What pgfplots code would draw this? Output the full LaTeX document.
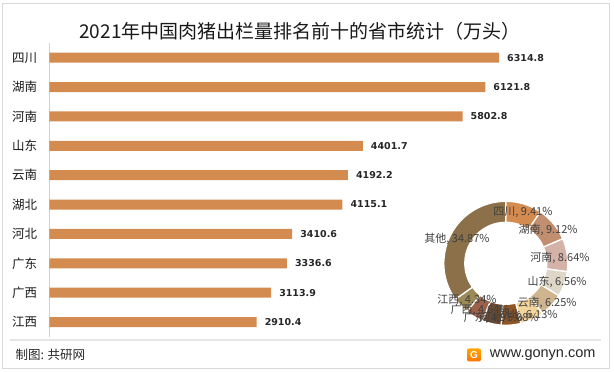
\documentclass[border=0pt]{standalone}
\usepackage{pgfplots}
\pgfplotsset{compat=1.18}
\usepackage{pgfplotstable}
\usepackage{fontspec}
\setmainfont{Noto Sans CJK SC}
\newfontfamily\valfont{DejaVu Sans}
\newfontfamily\webfont{Liberation Sans}
\definecolor{barc}{HTML}{D38B4F}
\definecolor{c1}{HTML}{D38B4F}
\definecolor{c2}{HTML}{C18F6F}
\definecolor{c3}{HTML}{D5B2A8}
\definecolor{c4}{HTML}{DED6C6}
\definecolor{c5}{HTML}{CFB58F}
\definecolor{c6}{HTML}{F3D59B}
\definecolor{c7}{HTML}{8E5526}
\definecolor{c8}{HTML}{6B4A2F}
\definecolor{c9}{HTML}{9C6249}
\definecolor{c10}{HTML}{9B8A56}
\definecolor{c11}{HTML}{8B7049}
\definecolor{lbl}{HTML}{404040}

\pgfplotstableread{
idx name value
0 江西 2910.4
1 广西 3113.9
2 广东 3336.6
3 河北 3410.6
4 湖北 4115.1
5 云南 4192.2
6 山东 4401.7
7 河南 5802.8
8 湖南 6121.8
9 四川 6314.8
}\bars

\pgfplotstableread{
pct col
9.41 c1
9.12 c2
8.64 c3
6.56 c4
6.25 c5
6.13 c6
5.08 c7
4.97 c8
4.64 c9
4.34 c10
34.87 c11
}\donut

\begin{document}
\begin{tikzpicture}
\useasboundingbox (0bp,0bp) rectangle (614bp,372bp);
\draw[draw=black!15, line width=0.8bp] (2.5bp,3.5bp) rectangle (609.5bp,368.5bp);

\node[font=\fontsize{19bp}{22bp}\selectfont, text=black!90] at (300bp,340.5bp) {2021年中国肉猪出栏量排名前十的省市统计（万头）};

\begin{axis}[
  at={(49.3bp,35.3bp)}, anchor=south west,
  scale only axis, width=498.5bp, height=293.7bp,
  xmin=0, xmax=7000, ymin=-0.5, ymax=9.5,
  hide x axis,
  axis y line*=left,
  y axis line style={draw=black!18, line width=1bp, -},
  ytick={0,...,9},
  yticklabels from table={\bars}{name},
  major tick length=0pt,
  yticklabel style={font=\fontsize{12.5bp}{14bp}\selectfont, text=black!90, inner sep=0pt, xshift=-12bp},
  /pgf/number format/assume math mode=true,
  clip=false,
]
\addplot[xbar, bar width=10bp, fill=barc, draw=none,
  point meta=x,
  nodes near coords={\pgfmathprintnumber[fixed,fixed zerofill,precision=1,1000 sep={},assume math mode=true]{\pgfplotspointmeta}},
  nodes near coords style={font=\valfont\bfseries\fontsize{9.5bp}{11bp}\selectfont, text=black!85, anchor=west, inner sep=0pt, xshift=8bp}
] table[x=value, y=idx] {\bars};
\end{axis}

\begin{axis}[
  at={(443.8bp,46.7bp)}, anchor=south west,
  scale only axis, width=124bp, height=124bp,
  xmin=-1, xmax=1, ymin=-1, ymax=1,
  hide axis, clip=false,
]
\addplot[draw=none] coordinates {(0,0)};
\pgfplotsextra{
  \xdef\cumpct{0}
  \foreach \i in {0,...,10}{
    \pgfplotstablegetelem{\i}{pct}\of\donut \let\slpct\pgfplotsretval
    \pgfplotstablegetelem{\i}{col}\of\donut \let\slcol\pgfplotsretval
    \pgfmathsetmacro\aA{90-3.6*\cumpct}
    \pgfmathsetmacro\aB{90-3.6*(\cumpct+\slpct)}
    \fill[fill=\slcol, draw=white, line width=1.3bp]
      (axis cs:0,0) ++(\aA:62bp) arc[start angle=\aA, end angle=\aB, radius=62bp]
      -- ([shift={(\aB:41bp)}]axis cs:0,0) arc[start angle=\aB, end angle=\aA, radius=41bp] -- cycle;
    \pgfmathsetmacro\newcum{\cumpct+\slpct}
    \xdef\cumpct{\newcum}
  }
}
\begin{scope}[every node/.style={font=\fontsize{11bp}{13bp}\selectfont, text=lbl, inner sep=0pt}]
\node at (axis cs:0.277,0.827) {四川, 9.41\%};
\node at (axis cs:0.681,0.537) {湖南, 9.12\%};
\node at (axis cs:0.874,0.085) {河南, 8.64\%};
\node at (axis cs:0.826,-0.302) {山东, 6.56\%};
\node at (axis cs:0.665,-0.640) {云南, 6.25\%};
\node at (axis cs:0.358,-0.834) {湖北, 6.13\%};
\node at (axis cs:0.052,-0.882) {河北, 5.08\%};
\node at (axis cs:-0.206,-0.887) {广东, 4.97\%};
\node at (axis cs:-0.416,-0.753) {广西, 4.64\%};
\node at (axis cs:-0.626,-0.592) {江西, 4.34\%};
\node at (axis cs:-0.787,0.392) {其他, 34.87\%};
\end{scope}
\end{axis}

\draw[draw=black!10, line width=1.5bp] (10bp,32bp) -- (601bp,32bp);
\node[anchor=west, font=\fontsize{12.5bp}{14bp}\selectfont, text=black!85] at (12bp,17bp) {制图: 共研网};
\shade[top color=orange!70!yellow, bottom color=orange!90!red, rounded corners=2bp] (467bp,10.5bp) rectangle (481bp,23.5bp);
\node[font=\webfont\bfseries\fontsize{10bp}{11bp}\selectfont, text=white, inner sep=0pt] at (474bp,17bp) {G};
\node[anchor=east, font=\webfont\fontsize{14.5bp}{16bp}\selectfont, text=black!85] at (599bp,17bp) {www.gonyn.com};
\end{tikzpicture}
\end{document}
